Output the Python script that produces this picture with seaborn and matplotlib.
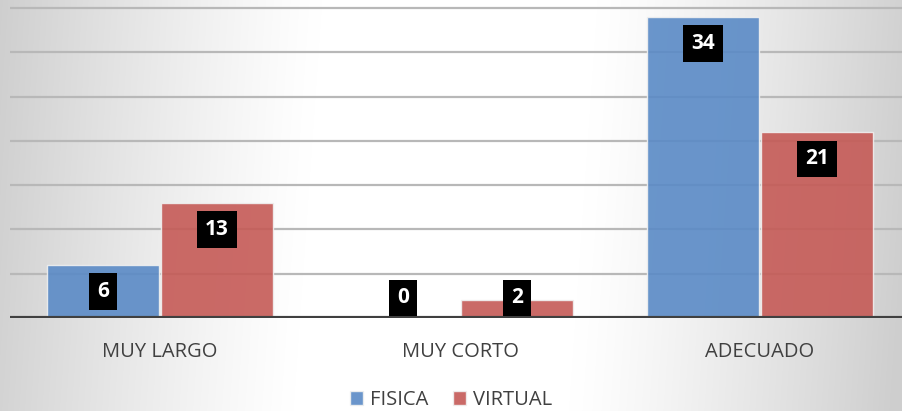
import numpy as np
import pandas as pd
import seaborn as sns
import matplotlib.pyplot as plt

categories = ["MUY LARGO", "MUY CORTO", "ADECUADO"]
series = ["FISICA", "VIRTUAL"]
fisica = [6, 0, 34]
virtual = [13, 2, 21]

df = pd.DataFrame({
    "categoria": categories * 2,
    "modalidad": [series[0]] * 3 + [series[1]] * 3,
    "valor": fisica + virtual,
})

sns.set_theme(style="white")
plt.rcParams["font.family"] = ["Open Sans", "DejaVu Sans"]

fig = plt.figure(figsize=(9.02, 4.11), dpi=100)

# soft grey-white background gradient
h, w = 411, 902
yy, xx = np.mgrid[0:h, 0:w]
cx = 460 - 0.07 * yy
d = np.abs(xx - cx) / 460
t = np.clip((d - 0.3) / 0.7, 0, 1) ** 1.2
shade = 1 - 0.19 * t
bg = fig.add_axes([0, 0, 1, 1], zorder=-5)
bg.imshow(np.dstack([shade] * 3), aspect="auto", extent=(0, 1, 0, 1))
bg.axis("off")

ax = fig.add_axes([10 / 902, 93 / 411, 900 / 902, 318 / 411])
ax.patch.set_alpha(0)

palette = {"FISICA": "#5a8ac6", "VIRTUAL": "#c55a56"}
sns.barplot(data=df, x="categoria", y="valor", hue="modalidad",
            hue_order=series, order=categories, palette=palette,
            width=0.76, gap=0.02, alpha=0.9, edgecolor="#f0f0f0",
            linewidth=1, saturation=1, ax=ax, zorder=3)

ax.set_xlim(-0.5, 2.5)
ax.set_ylim(0, 35.9)
ax.set_yticks(range(0, 36, 5))
ax.set_yticklabels([])
ax.yaxis.grid(True, color="#b8b8b8", linewidth=1.6, zorder=0)
ax.set_axisbelow(True)
for s in ax.spines.values():
    s.set_visible(False)
ax.axhline(0, color="#404040", linewidth=3, zorder=4)
ax.set_xlabel("")
ax.set_ylabel("")
ax.tick_params(axis="x", length=0, pad=17, labelsize=14.5, labelcolor="#404040")
ax.tick_params(axis="y", length=0)

# value labels in black boxes
for cont, vals in zip(ax.containers, [fisica, virtual]):
    for bar, v in zip(cont, vals):
        xc = bar.get_x() + bar.get_width() / 2
        yc = max(v - 3.05, 2.26)
        ax.text(xc, yc, str(v), ha="center", va="center", color="white",
                fontsize=15, fontweight="bold", zorder=6,
                bbox=dict(boxstyle="square,pad=0.38", facecolor="black",
                          edgecolor="none"))

leg = ax.legend(loc="center", bbox_to_anchor=(0.5, 11 / 411),
                bbox_transform=fig.transFigure, ncol=2, frameon=False,
                fontsize=14.5, handlelength=0.65, handleheight=0.65,
                handletextpad=0.35, columnspacing=1.2)
for txt in leg.get_texts():
    txt.set_color("#404040")

plt.savefig("out.png", dpi=100)
